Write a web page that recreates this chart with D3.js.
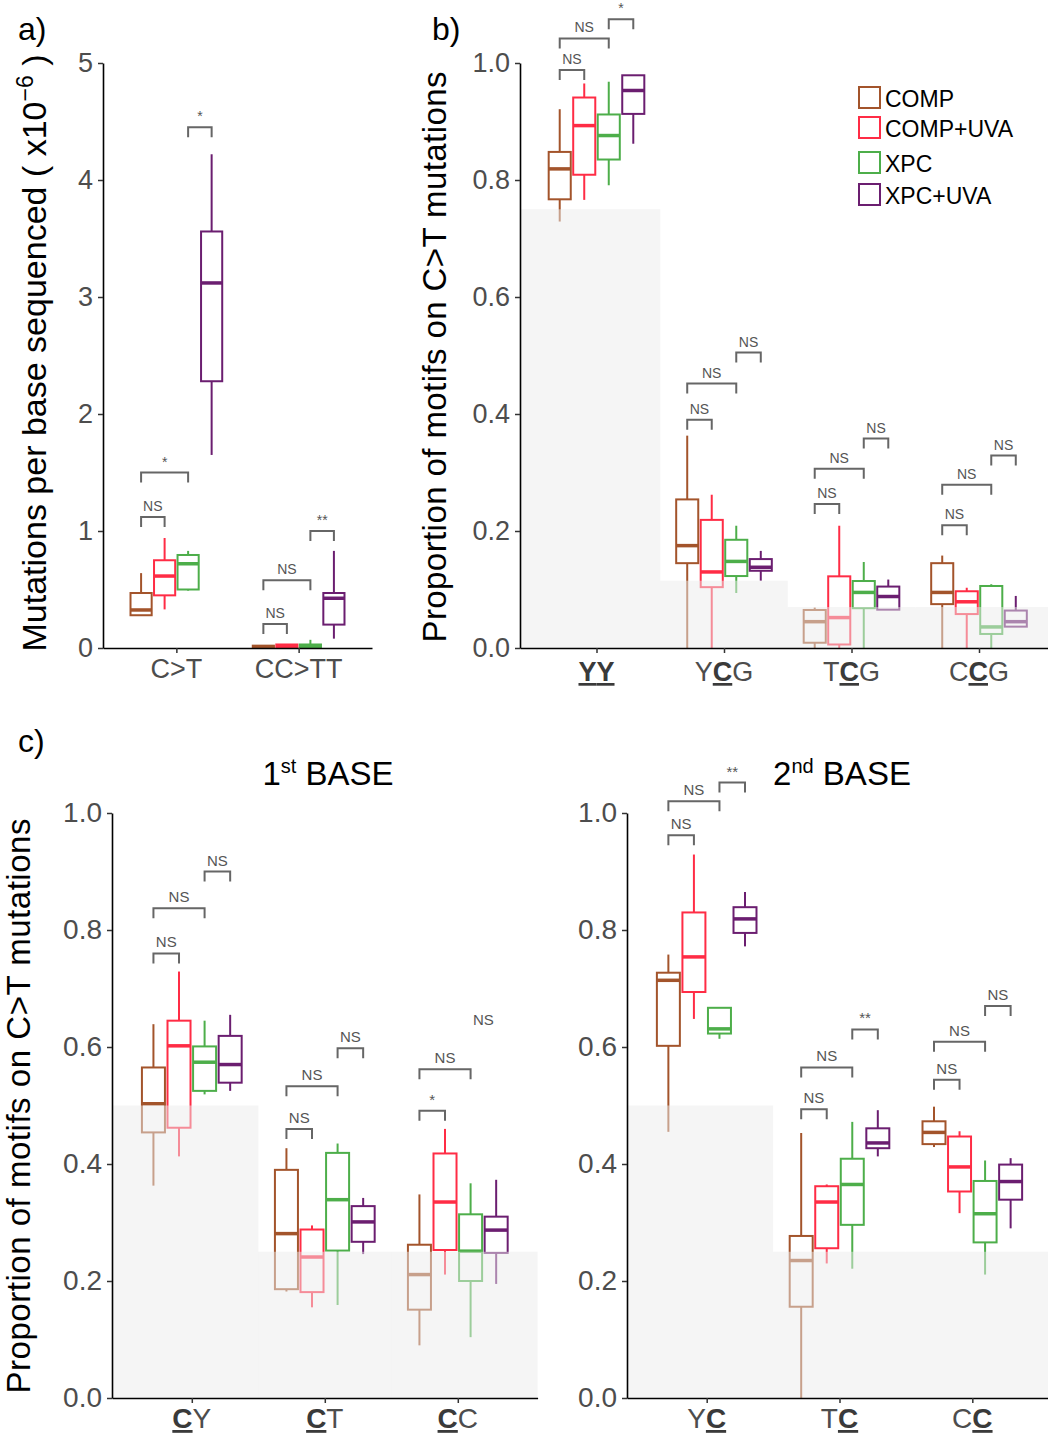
<!DOCTYPE html>
<html lang="en">
<head>
<meta charset="utf-8">
<title>C&gt;T mutations by motif</title>
<script src="https://d3js.org/d3.v7.min.js"></script>
<style>
  body { margin: 0; background: #fff; }
  svg text { font-family: "Liberation Sans", Arial, sans-serif; }
</style>
</head>
<body>
<div id="main"></div>
<script>

// ---- data ----
var groups = ["COMP", "COMP+UVA", "XPC", "XPC+UVA"];
var groupColors = ["#a3542b", "#ff2c45", "#4dae4a", "#6b1e70"];

// box stats per category, per group: [lowWhisker, q1, median, q3, highWhisker]
var aCats = ["C>T", "CC>TT"];
var aTicks = [0, 1, 2, 3, 4, 5];
var aBoxes = [
  [[0.28, 0.28, 0.325, 0.47, 0.64], [0.33, 0.45, 0.615, 0.75, 0.94], [0.49, 0.50, 0.72, 0.795, 0.83], [1.65, 2.28, 3.12, 3.56, 4.22]],
  [[0, 0, 0.01, 0.02, 0.02], [0, 0, 0.015, 0.03, 0.03], [0, 0, 0.015, 0.03, 0.07], [0.08, 0.20, 0.425, 0.47, 0.83]]
];
// brackets: [category, group1, group2, y, label]
var aBrackets = [
  [0, 0, 1, 1.12, "NS"], [0, 0, 2, 1.50, "*"], [0, 2, 3, 4.45, "*"],
  [1, 0, 1, 0.205, "NS"], [1, 0, 2, 0.58, "NS"], [1, 2, 3, 1.0, "**"]
];

var bCats = ["YY", "YCG", "TCG", "CCG"];
var bBold = [[0, 1], [1], [1], [1]];
var bTicks = [0, 0.2, 0.4, 0.6, 0.8, 1.0];
var bShade = [0.75, 0.115, 0.07, 0.07];
var bBoxes = [
  [[0.729, 0.767, 0.819, 0.848, 0.921], [0.766, 0.809, 0.893, 0.941, 0.965], [0.791, 0.835, 0.876, 0.912, 0.968], [0.862, 0.913, 0.953, 0.979, 0.979]],
  [[0, 0.145, 0.175, 0.254, 0.363], [0, 0.104, 0.130, 0.219, 0.262], [0.094, 0.123, 0.148, 0.185, 0.209], [0.115, 0.132, 0.138, 0.152, 0.166]],
  [[0, 0.009, 0.045, 0.065, 0.069], [0, 0.006, 0.052, 0.1225, 0.209], [0, 0.068, 0.095, 0.1145, 0.147], [0.0655, 0.0655, 0.088, 0.105, 0.117]],
  [[0, 0.075, 0.095, 0.145, 0.158], [0, 0.058, 0.079, 0.097, 0.103], [0, 0.024, 0.036, 0.106, 0.109], [0.0365, 0.0365, 0.045, 0.064, 0.089]]
];
var bBrackets = [
  [0, 0, 1, 0.988, "NS"], [0, 0, 2, 1.042, "NS"], [0, 2, 3, 1.075, "*"],
  [1, 0, 1, 0.39, "NS"], [1, 0, 2, 0.452, "NS"], [1, 2, 3, 0.505, "NS"],
  [2, 0, 1, 0.246, "NS"], [2, 0, 2, 0.3065, "NS"], [2, 2, 3, 0.358, "NS"],
  [3, 0, 1, 0.21, "NS"], [3, 0, 2, 0.279, "NS"], [3, 2, 3, 0.329, "NS"]
];

var cTicks = [0, 0.2, 0.4, 0.6, 0.8, 1.0];

var c1Cats = ["CY", "CT", "CC"];
var c1Bold = [[0], [0], [0]];
var c1Shade = [0.5, 0.25, 0.25];
var c1Boxes = [
  [[0.363, 0.454, 0.503, 0.565, 0.639], [0.413, 0.462, 0.602, 0.645, 0.729], [0.519, 0.525, 0.574, 0.601, 0.645], [0.525, 0.539, 0.570, 0.619, 0.655]],
  [[0.182, 0.186, 0.281, 0.390, 0.427], [0.155, 0.181, 0.241, 0.288, 0.295], [0.159, 0.252, 0.339, 0.419, 0.435], [0.246, 0.267, 0.301, 0.328, 0.342]],
  [[0.090, 0.151, 0.211, 0.262, 0.348], [0.211, 0.253, 0.335, 0.418, 0.460], [0.104, 0.200, 0.251, 0.314, 0.367], [0.195, 0.248, 0.287, 0.310, 0.373]]
];
// last entry has its label only (no bracket drawn in the original)
var c1Brackets = [
  [0, 0, 1, 0.760, "NS"], [0, 0, 2, 0.837, "NS"], [0, 2, 3, 0.900, "NS"],
  [1, 0, 1, 0.460, "NS"], [1, 0, 2, 0.533, "NS"], [1, 2, 3, 0.598, "NS"],
  [2, 0, 1, 0.491, "*"], [2, 0, 2, 0.562, "NS"], [2, 2, 3, 0.6265, "NS", "nobracket"]
];

var c2Cats = ["YC", "TC", "CC"];
var c2Bold = [[1], [1], [1]];
var c2Shade = [0.5, 0.25, 0.25];
var c2Boxes = [
  [[0.455, 0.602, 0.714, 0.727, 0.758], [0.648, 0.694, 0.754, 0.830, 0.929], [0.614, 0.623, 0.631, 0.667, 0.667], [0.772, 0.795, 0.819, 0.839, 0.865]],
  [[0, 0.156, 0.235, 0.277, 0.453], [0.230, 0.256, 0.335, 0.362, 0.365], [0.221, 0.296, 0.365, 0.409, 0.472], [0.413, 0.427, 0.436, 0.461, 0.492]],
  [[0.429, 0.434, 0.454, 0.473, 0.498], [0.316, 0.353, 0.395, 0.447, 0.456], [0.211, 0.266, 0.315, 0.371, 0.406], [0.290, 0.339, 0.370, 0.399, 0.410]]
];
var c2Brackets = [
  [0, 0, 1, 0.962, "NS"], [0, 0, 2, 1.020, "NS"], [0, 2, 3, 1.052, "**"],
  [1, 0, 1, 0.4935, "NS"], [1, 0, 2, 0.565, "NS"], [1, 2, 3, 0.630, "**"],
  [2, 0, 1, 0.544, "NS"], [2, 0, 2, 0.609, "NS"], [2, 2, 3, 0.670, "NS"]
];

// ---- drawing ----
var svg = d3.select("#main")
  .append("svg")
  .attr("width", 1048)
  .attr("height", 1434)
  .style("display", "block");

svg.append("rect").attr("width", 1048).attr("height", 1434).attr("fill", "#fff");

function drawPanel(p) {
  var x = d3.scalePoint().domain(p.cats).range(p.xRange).padding(0.6);
  var step = x.step();
  var y = d3.scaleLinear().domain(p.yDomain).range(p.yRange);
  var inner = d3.scaleBand().domain(groups).range([-0.375 * step, 0.375 * step]).paddingInner(0.1);
  var bw = inner.bandwidth();
  var g = svg.append("g");

  function cx(ci, gi) {
    return x(p.cats[ci]) + inner(groups[gi]) + bw / 2;
  }

  // boxes
  p.boxes.forEach(function(row, ci) {
    row.forEach(function(s, gi) {
      var c = cx(ci, gi);
      var col = groupColors[gi];
      var bg = g.append("g").attr("stroke", col).attr("stroke-width", 2);
      bg.append("line").attr("x1", c).attr("x2", c).attr("y1", y(s[0])).attr("y2", y(s[1]));
      bg.append("line").attr("x1", c).attr("x2", c).attr("y1", y(s[3])).attr("y2", y(s[4]));
      bg.append("rect")
        .attr("x", c - bw / 2).attr("y", y(s[3]))
        .attr("width", bw).attr("height", Math.max(0, y(s[1]) - y(s[3])))
        .attr("fill", "#fff");
      bg.append("line")
        .attr("x1", c - bw / 2).attr("x2", c + bw / 2)
        .attr("y1", y(s[2])).attr("y2", y(s[2]))
        .attr("stroke-width", 3.5);
    });
  });

  // expected-proportion shading, drawn over the boxes
  if (p.shade) {
    p.shade.forEach(function(v, i) {
      var c = x(p.cats[i]);
      var x0 = i === 0 ? p.xRange[0] : c - step / 2;
      var x1 = i === p.shade.length - 1 ? p.xRange[1] : c + step / 2;
      g.append("rect")
        .attr("x", x0).attr("y", y(v))
        .attr("width", x1 - x0).attr("height", y(0) - y(v))
        .attr("fill", "#ebebeb").attr("fill-opacity", 0.5);
    });
  }

  // axes
  var ya = g.append("g")
    .attr("transform", "translate(" + p.xRange[0] + ",0)")
    .call(d3.axisLeft(y).tickValues(p.ticks).tickFormat(p.fmt).tickSize(5).tickSizeOuter(0).tickPadding(5));
  var xa = g.append("g")
    .attr("transform", "translate(0," + p.yRange[0] + ")")
    .call(d3.axisBottom(x).tickSize(5).tickSizeOuter(0).tickFormat(""));
  [ya, xa].forEach(function(a) {
    a.select(".domain").attr("stroke", "#000").attr("stroke-width", 1.6);
    a.selectAll(".tick line").attr("stroke", "#333").attr("stroke-width", 1.5);
  });
  ya.selectAll(".tick text")
    .attr("font-size", p.tickSize)
    .attr("fill", "#4d4d4d")
    .style("font-family", "'Liberation Sans', Arial, sans-serif");

  // x labels, with bold underlined letters where needed
  p.cats.forEach(function(cat, ci) {
    var t = g.append("text")
      .attr("x", x(cat)).attr("y", p.labelY)
      .attr("text-anchor", "middle")
      .attr("font-size", p.tickSize);
    var bold = p.bold ? p.bold[ci] : [];
    cat.split("").forEach(function(ch, k) {
      var isB = bold.indexOf(k) >= 0;
      var ts = t.append("tspan").text(ch).attr("fill", isB ? "#3a3a3a" : "#4d4d4d");
      if (isB) ts.attr("font-weight", "bold").style("text-decoration", "underline");
    });
  });

  // significance brackets
  p.brackets.forEach(function(b) {
    var x1 = cx(b[0], b[1]);
    var x2 = cx(b[0], b[2]);
    var yy = y(b[3]);
    if (b[5] !== "nobracket") {
      g.append("path")
        .attr("d", "M" + x1 + "," + (yy + 10) + "V" + yy + "H" + x2 + "V" + (yy + 10))
        .attr("fill", "none").attr("stroke", "#666").attr("stroke-width", 2);
    }
    g.append("text")
      .attr("x", (x1 + x2) / 2).attr("y", yy - 6)
      .attr("text-anchor", "middle")
      .attr("font-size", p.sigSize)
      .attr("fill", "#555")
      .text(b[4]);
  });
}

drawPanel({
  cats: aCats, boxes: aBoxes, brackets: aBrackets, ticks: aTicks,
  yDomain: [0, 5], yRange: [648, 63], xRange: [103, 372],
  fmt: d3.format("d"), tickSize: 27, labelY: 678, sigSize: 14
});

drawPanel({
  cats: bCats, bold: bBold, boxes: bBoxes, brackets: bBrackets, ticks: bTicks, shade: bShade,
  yDomain: [0, 1], yRange: [648, 63], xRange: [520, 1055.5],
  fmt: d3.format(".1f"), tickSize: 27, labelY: 681, sigSize: 14
});

drawPanel({
  cats: c1Cats, bold: c1Bold, boxes: c1Boxes, brackets: c1Brackets, ticks: cTicks, shade: c1Shade,
  yDomain: [0, 1], yRange: [1398, 813], xRange: [112, 537.6],
  fmt: d3.format(".1f"), tickSize: 28, labelY: 1428, sigSize: 15
});

drawPanel({
  cats: c2Cats, bold: c2Bold, boxes: c2Boxes, brackets: c2Brackets, ticks: cTicks, shade: c2Shade,
  yDomain: [0, 1], yRange: [1398, 813], xRange: [627, 1052],
  fmt: d3.format(".1f"), tickSize: 28, labelY: 1428, sigSize: 15
});

// panel letters
[["a)", 18, 40], ["b)", 432, 40], ["c)", 18, 752]].forEach(function(l) {
  svg.append("text").attr("x", l[1]).attr("y", l[2]).attr("font-size", 32).attr("fill", "#000").text(l[0]);
});

// y axis titles
var ta = svg.append("text")
  .attr("transform", "translate(46,353) rotate(-90)")
  .attr("text-anchor", "middle").attr("font-size", 34).attr("fill", "#000");
ta.append("tspan").text("Mutations per base sequenced ( x10");
ta.append("tspan").text("\u22126").attr("font-size", 23).attr("dy", -13);
ta.append("tspan").text(" )").attr("dy", 13);

svg.append("text")
  .attr("transform", "translate(446,357) rotate(-90)")
  .attr("text-anchor", "middle").attr("font-size", 33).attr("fill", "#000")
  .attr("textLength", 571)
  .text("Proportion of motifs on C>T mutations");

svg.append("text")
  .attr("transform", "translate(30,1106) rotate(-90)")
  .attr("text-anchor", "middle").attr("font-size", 33).attr("fill", "#000")
  .attr("textLength", 575)
  .text("Proportion of motifs on C>T mutations");

// facet titles
[["1", "st", 328], ["2", "nd", 842]].forEach(function(tt) {
  var t = svg.append("text").attr("x", tt[2]).attr("y", 785)
    .attr("text-anchor", "middle").attr("font-size", 33).attr("fill", "#000");
  t.append("tspan").text(tt[0]);
  t.append("tspan").text(tt[1]).attr("font-size", 20).attr("dy", -12);
  t.append("tspan").text(" BASE").attr("dy", 12);
});

// legend
var legend = svg.append("g");
var legendY = [87, 117, 152, 184];
groups.forEach(function(name, i) {
  legend.append("rect")
    .attr("x", 859).attr("y", legendY[i])
    .attr("width", 21).attr("height", 21)
    .attr("fill", "#fff").attr("stroke", groupColors[i]).attr("stroke-width", 2);
  legend.append("text")
    .attr("x", 885).attr("y", legendY[i] + 20)
    .attr("font-size", 23).attr("fill", "#000")
    .text(name);
});

</script>
</body>
</html>
